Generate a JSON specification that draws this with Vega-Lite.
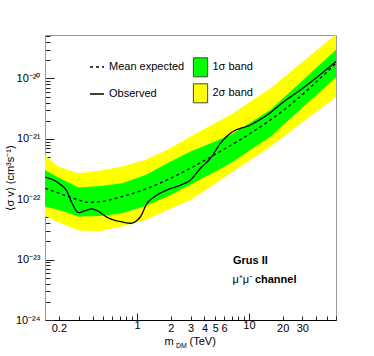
{
  "$schema": "https://vega.github.io/schema/vega-lite/v6.json",
  "width": 291,
  "height": 285,
  "autosize": {"type": "none"},
  "padding": {"left": 45, "top": 35, "right": 38, "bottom": 36},
  "config": {
    "font": "Liberation Sans",
    "view": {"stroke": "#999", "strokeWidth": 1},
    "axis": {"grid": false, "labelFont": "Liberation Sans", "titleFont": "Liberation Sans", "labelColor": "#000", "titleColor": "#000", "tickColor": "#222"},
    "legend": {"labelFont": "Liberation Sans", "labelFontSize": 11, "labelColor": "#000"}
  },
  "datasets": {
    "bands": [
      {"m": 0.15, "band": "2σ band", "lo": 5.3e-23, "hi": 5.4e-22},
      {"m": 0.19, "band": "2σ band", "lo": 4.27e-23, "hi": 3.6e-22},
      {"m": 0.3, "band": "2σ band", "lo": 3.03e-23, "hi": 2.7e-22},
      {"m": 0.47, "band": "2σ band", "lo": 2.99e-23, "hi": 2.98e-22},
      {"m": 0.73, "band": "2σ band", "lo": 3.52e-23, "hi": 3.5e-22},
      {"m": 1.19, "band": "2σ band", "lo": 4.54e-23, "hi": 4.5e-22},
      {"m": 1.86, "band": "2σ band", "lo": 6.65e-23, "hi": 6.58e-22},
      {"m": 3.0, "band": "2σ band", "lo": 9.75e-23, "hi": 1.09e-21},
      {"m": 6.85, "band": "2σ band", "lo": 2.7e-22, "hi": 2.5e-21},
      {"m": 15.6, "band": "2σ band", "lo": 7.46e-22, "hi": 6.9e-21},
      {"m": 60, "band": "2σ band", "lo": 5.0e-21, "hi": 5.4e-20},
      {"m": 0.15, "band": "1σ band", "lo": 7.55e-23, "hi": 3.06e-22},
      {"m": 0.19, "band": "1σ band", "lo": 6.8e-23, "hi": 2.38e-22},
      {"m": 0.3, "band": "1σ band", "lo": 5.16e-23, "hi": 1.56e-22},
      {"m": 0.47, "band": "1σ band", "lo": 5.3e-23, "hi": 1.66e-22},
      {"m": 0.73, "band": "1σ band", "lo": 5.86e-23, "hi": 1.84e-22},
      {"m": 1.19, "band": "1σ band", "lo": 7.76e-23, "hi": 2.53e-22},
      {"m": 1.86, "band": "1σ band", "lo": 1.11e-22, "hi": 3.95e-22},
      {"m": 3.0, "band": "1σ band", "lo": 1.73e-22, "hi": 6.2e-22},
      {"m": 6.85, "band": "1σ band", "lo": 3.95e-22, "hi": 1.16e-21},
      {"m": 15.6, "band": "1σ band", "lo": 1.09e-21, "hi": 3.03e-21},
      {"m": 60, "band": "1σ band", "lo": 1.05e-20, "hi": 2.99e-20}
    ],
    "lines": [
      {"m": 0.151, "series": "Mean expected", "v": 1.52e-22},
      {"m": 0.192, "series": "Mean expected", "v": 1.29e-22},
      {"m": 0.3, "series": "Mean expected", "v": 9.75e-23},
      {"m": 0.357, "series": "Mean expected", "v": 8.9e-23},
      {"m": 0.47, "series": "Mean expected", "v": 9.14e-23},
      {"m": 0.734, "series": "Mean expected", "v": 1.11e-22},
      {"m": 1.188, "series": "Mean expected", "v": 1.47e-22},
      {"m": 1.856, "series": "Mean expected", "v": 2.09e-22},
      {"m": 3.0, "series": "Mean expected", "v": 3.27e-22},
      {"m": 5.2, "series": "Mean expected", "v": 5.8e-22},
      {"m": 10.35, "series": "Mean expected", "v": 1.24e-21},
      {"m": 20.6, "series": "Mean expected", "v": 3.03e-21},
      {"m": 60, "series": "Mean expected", "v": 1.79e-20},
      {"m": 0.151, "series": "Observed", "v": 2.32e-22},
      {"m": 0.199, "series": "Observed", "v": 1.84e-22},
      {"m": 0.236, "series": "Observed", "v": 1.34e-22},
      {"m": 0.262, "series": "Observed", "v": 8.6e-23},
      {"m": 0.3, "series": "Observed", "v": 6.0e-23},
      {"m": 0.344, "series": "Observed", "v": 6.5e-23},
      {"m": 0.39, "series": "Observed", "v": 6.9e-23},
      {"m": 0.454, "series": "Observed", "v": 6.25e-23},
      {"m": 0.539, "series": "Observed", "v": 5.03e-23},
      {"m": 0.618, "series": "Observed", "v": 4.54e-23},
      {"m": 0.709, "series": "Observed", "v": 4.27e-23},
      {"m": 0.871, "series": "Observed", "v": 4.0e-23},
      {"m": 0.966, "series": "Observed", "v": 4.27e-23},
      {"m": 1.071, "series": "Observed", "v": 5.16e-23},
      {"m": 1.229, "series": "Observed", "v": 8.6e-23},
      {"m": 1.41, "series": "Observed", "v": 1.08e-22},
      {"m": 1.856, "series": "Observed", "v": 1.43e-22},
      {"m": 2.44, "series": "Observed", "v": 1.71e-22},
      {"m": 3.0, "series": "Observed", "v": 2.09e-22},
      {"m": 3.69, "series": "Observed", "v": 3.27e-22},
      {"m": 4.54, "series": "Observed", "v": 4.8e-22},
      {"m": 5.57, "series": "Observed", "v": 8.5e-22},
      {"m": 6.85, "series": "Observed", "v": 1.24e-21},
      {"m": 10.35, "series": "Observed", "v": 1.71e-21},
      {"m": 14.6, "series": "Observed", "v": 2.5e-21},
      {"m": 20.6, "series": "Observed", "v": 4.16e-21},
      {"m": 29, "series": "Observed", "v": 6.5e-21},
      {"m": 60, "series": "Observed", "v": 1.91e-20}
    ],
    "one": [{}]
  },
  "encoding": {
    "x": {
      "type": "quantitative",
      "scale": {"type": "log", "domain": [0.15, 60], "nice": false},
      "axis": {
        "title": null,
        "values": [0.2, 0.3, 0.4, 0.5, 0.6, 0.7, 0.8, 0.9, 1, 2, 3, 4, 5, 6, 7, 8, 9, 10, 20, 30, 40, 50, 60],
        "labelExpr": "indexof([0.2, 1, 2, 3, 4, 5, 6, 10, 20, 30], datum.value) >= 0 ? '' + datum.value : ''",
        "labelOverlap": false,
        "labelFlush": false,
        "labelFontSize": 11,
        "labelPadding": 6,
        "domainColor": "#000",
        "tickSize": {"condition": {"test": "datum.value == 1 || datum.value == 10", "value": -7}, "value": -4}
      }
    },
    "y": {
      "type": "quantitative",
      "scale": {"type": "log", "domain": [1e-24, 5.25e-20], "nice": false},
      "axis": {
        "title": "⟨σ v⟩ (cm³s⁻¹)",
        "titleFontSize": 11,
        "titleFontWeight": "normal",
        "titlePadding": 0,
        "values": [1e-24, 2e-24, 3e-24, 4e-24, 5e-24, 6e-24, 7e-24, 8e-24, 9e-24, 1e-23, 2e-23, 3e-23, 4e-23, 5e-23, 6e-23, 7e-23, 8e-23, 9e-23, 1e-22, 2e-22, 3e-22, 4e-22, 5e-22, 6e-22, 7e-22, 8e-22, 9e-22, 1e-21, 2e-21, 3e-21, 4e-21, 5e-21, 6e-21, 7e-21, 8e-21, 9e-21, 1e-20, 2e-20, 3e-20, 4e-20, 5e-20],
        "labelExpr": "abs(log(datum.value)/LN10 - round(log(datum.value)/LN10)) < 0.001 ? ('10' + (round(log(datum.value)/LN10) == -20 ? '⁻²⁰' : round(log(datum.value)/LN10) == -21 ? '⁻²¹' : round(log(datum.value)/LN10) == -22 ? '⁻²²' : round(log(datum.value)/LN10) == -23 ? '⁻²³' : '⁻²⁴')) : ''",
        "labelOverlap": false,
        "labelFlush": false,
        "labelFontSize": 11,
        "labelPadding": 14,
        "domainColor": "#999",
        "tickSize": {"condition": {"test": "abs(log(datum.value)/LN10 - round(log(datum.value)/LN10)) < 0.001", "value": -9}, "value": -5}
      }
    }
  },
  "layer": [
    {
      "data": {"name": "bands"},
      "transform": [{"filter": "datum.band == '2σ band'"}],
      "mark": {"type": "area", "clip": true, "opacity": 1},
      "encoding": {
        "x": {"field": "m", "type": "quantitative"},
        "y": {"field": "lo", "type": "quantitative"},
        "y2": {"field": "hi"},
        "fill": {
          "field": "band", "type": "nominal",
          "scale": {"domain": ["1σ band", "2σ band"], "range": ["#00ff00", "#ffff00"]},
          "legend": {
            "title": null, "orient": "none", "legendX": 145.5, "legendY": 22.3,
            "symbolType": "M-0.75,-1L0.75,-1L0.75,1L-0.75,1Z", "symbolSize": 361,
            "symbolStrokeColor": "#444", "symbolStrokeWidth": 1, "symbolOpacity": 1,
            "rowPadding": 2, "labelOffset": 2, "labelFontSize": 11
          }
        }
      }
    },
    {
      "data": {"name": "bands"},
      "transform": [{"filter": "datum.band == '1σ band'"}],
      "mark": {"type": "area", "clip": true, "opacity": 1},
      "encoding": {
        "x": {"field": "m", "type": "quantitative"},
        "y": {"field": "lo", "type": "quantitative"},
        "y2": {"field": "hi"},
        "fill": {"field": "band", "type": "nominal"}
      }
    },
    {
      "data": {"name": "lines"},
      "mark": {"type": "line", "clip": true, "color": "#000", "strokeWidth": 1.3, "interpolate": "monotone"},
      "encoding": {
        "x": {"field": "m", "type": "quantitative"},
        "y": {"field": "v", "type": "quantitative"},
        "detail": {"field": "series"},
        "strokeDash": {
          "field": "series", "type": "nominal",
          "scale": {"domain": ["Mean expected", "Observed"], "range": [[3, 3], [1, 0]]},
          "legend": {
            "title": null, "orient": "none", "legendX": 44, "legendY": 24,
            "symbolType": "stroke", "symbolSize": 196, "symbolStrokeColor": "#000", "symbolStrokeWidth": 1.3,
            "rowPadding": 14, "labelOffset": 4, "labelFontSize": 11
          }
        }
      }
    },
    {
      "data": {"name": "one"},
      "mark": {"type": "text", "fontSize": 11, "fontWeight": "bold", "align": "center", "baseline": "middle"},
      "encoding": {"x": {"datum": 10.3}, "y": {"datum": 9.5e-24}, "text": {"value": "Grus II"}}
    },
    {
      "data": {"name": "one"},
      "mark": {"type": "text", "fontSize": 11, "fontWeight": "normal", "align": "right", "baseline": "middle"},
      "encoding": {"x": {"datum": 10.9}, "y": {"datum": 4.62e-24}, "text": {"value": "μ⁺μ⁻"}}
    },
    {
      "data": {"name": "one"},
      "mark": {"type": "text", "fontSize": 11, "fontWeight": "bold", "align": "left", "baseline": "middle"},
      "encoding": {"x": {"datum": 11.3}, "y": {"datum": 4.62e-24}, "text": {"value": "channel"}}
    },
    {
      "data": {"name": "one"},
      "mark": {"type": "text", "fontSize": 11, "align": "left", "baseline": "alphabetic", "dy": 25, "clip": false},
      "encoding": {"x": {"datum": 1.755}, "y": {"datum": 1e-24}, "text": {"value": "m"}}
    },
    {
      "data": {"name": "one"},
      "mark": {"type": "text", "fontSize": 7, "align": "left", "baseline": "alphabetic", "dy": 28, "clip": false},
      "encoding": {"x": {"datum": 2.225}, "y": {"datum": 1e-24}, "text": {"value": "DM"}}
    },
    {
      "data": {"name": "one"},
      "mark": {"type": "text", "fontSize": 11, "align": "left", "baseline": "alphabetic", "dy": 25, "clip": false},
      "encoding": {"x": {"datum": 2.94}, "y": {"datum": 1e-24}, "text": {"value": "(TeV)"}}
    }
  ]
}
